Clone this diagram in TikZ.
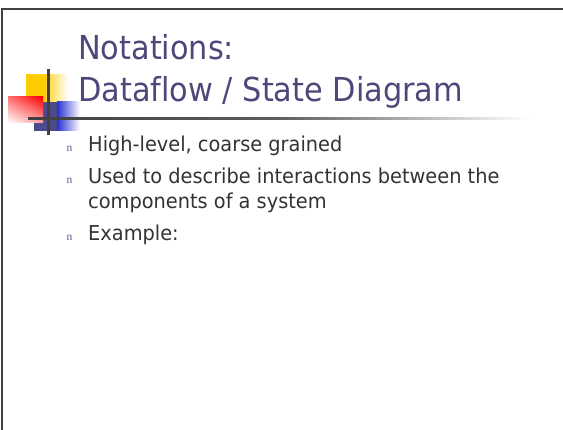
\documentclass[tikz,border=0pt]{standalone}
\usepackage{fontspec}
\usetikzlibrary{shadings}
\setmainfont{DejaVu Sans}[FakeStretch=0.944,Ligatures=NoCommon]
\newfontfamily\headfont{DejaVu Sans}[FakeStretch=0.92,Ligatures=NoCommon]
\newfontfamily\bulletfont{Liberation Serif}
\definecolor{titleink}{RGB}{78,72,122}
\definecolor{bodyink}{RGB}{51,51,51}
\definecolor{frameink}{RGB}{64,64,64}
\definecolor{bulletink}{RGB}{92,90,150}
\definecolor{goldsq}{RGB}{255,204,0}
\definecolor{navysq}{RGB}{76,74,138}
\definecolor{bluesq}{RGB}{40,50,210}
\begin{document}
\begin{tikzpicture}[x=1pt,y=-1pt,
  titletext/.style={anchor=base west,inner sep=0pt,text=titleink,font=\headfont\fontsize{33}{38}\selectfont},
  bodytext/.style={anchor=base west,inner sep=0pt,text=bodyink,font=\fontsize{20.5}{24}\selectfont},
  bulletmark/.style={anchor=base west,inner sep=0pt,text=bulletink,font=\bulletfont\fontsize{11.5}{13}\selectfont}]
\useasboundingbox (0,0) rectangle (563,430);
\fill[white] (0,0) rectangle (563,430);
% slide frame
\draw[frameink,line width=2.2pt] (2,430) -- (2,9) -- (563,9);
% corner ornament
\shade[left color=goldsq,right color=white,middle color=goldsq!80] (26,75) rectangle (68,102);
\fill[goldsq] (26,75) rectangle (46,102);
\shade[left color=bluesq,right color=white] (57,102) rectangle (80,131);
\fill[navysq] (34,102) rectangle (57,131);
\shade[upper right=red,upper left=red!55,lower left=white,lower right=red!35] (8,97) rectangle (43,123);
\draw[frameink,line width=2.6pt] (48.3,69) -- (48.3,135);
\shade[left color=frameink,right color=white,middle color=frameink!85] (28,117.8) rectangle (530,119.6);
% title
\node[titletext] (t1) at (78,60) {Notations:};
\node[titletext] (t2) at (78,102) {Dataflow / State Diagram};
% bullets
\node[bulletmark] (b1) at (66.5,152) {n};
\node[bodytext] (l1) at (88,152) {High-level, coarse grained};
\node[bulletmark] (b2) at (66.5,183.3) {n};
\node[bodytext] (l2) at (88,183.3) {Used to describe interactions between the};
\node[bodytext] (l2b) at (88,208.3) {components of a system};
\node[bulletmark] (b3) at (66.5,241) {n};
\node[bodytext] (l3) at (88,241) {Example:};
\end{tikzpicture}
\end{document}
